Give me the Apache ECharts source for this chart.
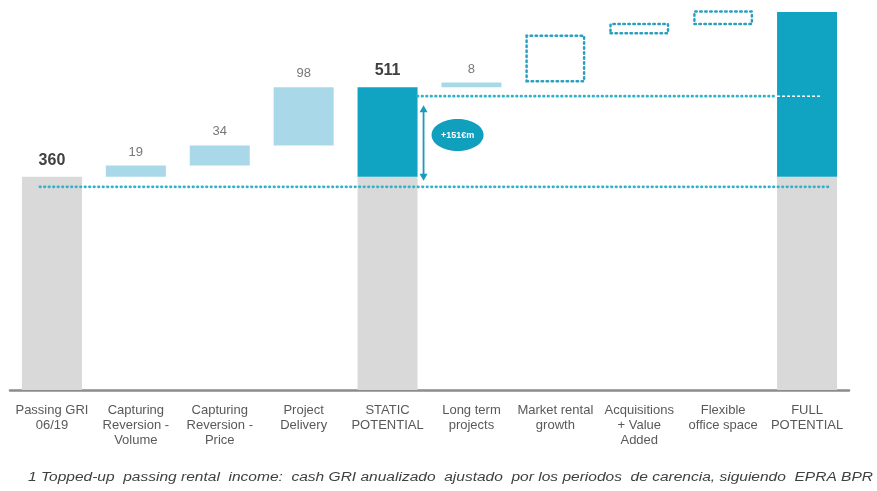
<!DOCTYPE html>
<html>
<head>
<meta charset="utf-8">
<script src="https://cdn.jsdelivr.net/npm/echarts@6/dist/echarts.min.js"></script>
<style>html,body{margin:0;padding:0;background:#fff}#c{width:877px;height:491px}</style>
</head>
<body>
<div id="c"></div>
<script>
var categories = ['Passing GRI\n06/19','Capturing\nReversion -\nVolume','Capturing\nReversion -\nPrice','Project\nDelivery','STATIC\nPOTENTIAL','Long term\nprojects','Market rental\ngrowth','Acquisitions\n+ Value\nAdded','Flexible\noffice space','FULL\nPOTENTIAL'];
var baseVals   = [0, 360, 379, 413, 0, 511, 519, 600, 616, 0];
var grayVals   = [360, '-', '-', '-', 360, '-', '-', '-', '-', 360];
var stepVals   = ['-', 19, 34, 98, '-', 8, '-', '-', '-', '-'];
var tealVals   = ['-', '-', '-', '-', 151, '-', '-', '-', '-', 278];
var dottedVals = ['-', '-', '-', '-', '-', '-', 81, 20, 25, '-'];
var valueLabels = ['360', '19', '34', '98', '511', '8', '', '', '', ''];
var totalIdx = [0, 4];
var passingLevel = 343;
var staticLevel = 496;
var deltaText = '+151€m';
var footnote = '1 Topped-up  passing rental  income:  cash GRI anualizado  ajustado  por los periodos  de carencia, siguiendo  EPRA BPR';

var chart = echarts.init(document.getElementById('c'));
function lbl(p){ return valueLabels[p.dataIndex] ? (totalIdx.indexOf(p.dataIndex) >= 0 ? '{t|' + valueLabels[p.dataIndex] + '}' : '{s|' + valueLabels[p.dataIndex] + '}') : ''; }
var rich = { t:{fontSize:16,fontWeight:'bold',color:'#404040',fontFamily:'Liberation Sans'}, s:{fontSize:13,color:'#777',fontFamily:'Liberation Sans'} };
chart.setOption({
  animation:false,
  grid:{left:10,right:28,top:5,bottom:101},
  xAxis:{type:'category',data:categories,
    axisLine:{lineStyle:{color:'#8c8c8c',width:2.5}},axisTick:{show:false},
    axisLabel:{interval:0,color:'#595959',fontSize:13,lineHeight:15,margin:13,fontFamily:'Liberation Sans'}},
  yAxis:{type:'value',min:0,max:650,show:false,splitLine:{show:false}},
  series:[
    {type:'bar',stack:'w',data:baseVals,barWidth:60,itemStyle:{color:'rgba(0,0,0,0)'},silent:true},
    {type:'bar',stack:'w',data:grayVals,barWidth:60,itemStyle:{color:'#d9d9d9'},
      label:{show:true,position:'top',distance:8,formatter:function(p){return p.dataIndex===0?lbl(p):'';},rich:rich}},
    {type:'bar',stack:'w',data:stepVals,barWidth:60,itemStyle:{color:'#a9d9e8'},
      label:{show:true,position:'top',distance:7,formatter:lbl,rich:rich}},
    {type:'bar',stack:'w',data:tealVals,barWidth:60,itemStyle:{color:'#10a4c2'},
      label:{show:true,position:'top',distance:9,formatter:function(p){return p.dataIndex===4?lbl(p):'';},rich:rich}},
    {type:'bar',stack:'w',data:dottedVals,barWidth:62,itemStyle:{color:'rgba(0,0,0,0)',borderColor:'#2b9fc0',borderWidth:2.5,borderType:[1.5,3.5],borderCap:'round'}}
  ]
});

function px(i,v){ return chart.convertToPixel({xAxisIndex:0,yAxisIndex:0},[i,v]); }
var p0 = px(0, passingLevel), p9 = px(9, passingLevel);
var s4 = px(4, staticLevel), s9 = px(9, staticLevel);
var top511 = px(4, 511), top360 = px(4, 360);
var ax = top511[0] + 36;
var ay1 = top511[1] + 18, ay2 = top360[1] + 4;
var ecx = top511[0] + 70, ecy = (top511[1] + top360[1]) / 2 + 3;
var dot = {stroke:'#2fb2cb',lineWidth:2.8,lineDash:[0.5,4],lineCap:'round'};
var ctx = document.createElement('canvas').getContext('2d');
ctx.font = 'italic 12px "Liberation Sans"';
var fw = ctx.measureText(footnote).width;
var fs = 845 / fw;
chart.setOption({graphic:[
  {type:'line',shape:{x1:p0[0]-12,y1:p0[1],x2:p9[0]+23,y2:p9[1]},style:dot,z:10},
  {type:'line',shape:{x1:s4[0]+30,y1:s4[1],x2:s9[0]-30,y2:s9[1]},style:dot,z:10},
  {type:'line',shape:{x1:s9[0]-30,y1:s9[1],x2:s9[0]+15,y2:s9[1]},style:{stroke:'#ffffff',lineWidth:1.5,lineDash:[3,2]},z:10},
  {type:'line',shape:{x1:ax,y1:ay1+5,x2:ax,y2:ay2-5},style:{stroke:'#1a9bb8',lineWidth:1.8},z:10},
  {type:'polygon',shape:{points:[[ax,ay1],[ax-4,ay1+7],[ax+4,ay1+7]]},style:{fill:'#1a9bb8'},z:10},
  {type:'polygon',shape:{points:[[ax,ay2],[ax-4,ay2-7],[ax+4,ay2-7]]},style:{fill:'#1a9bb8'},z:10},
  {type:'ellipse',shape:{cx:ecx,cy:ecy,rx:26,ry:16},style:{fill:'#10a0be'},z:10},
  {type:'text',x:ecx,y:ecy,style:{text:deltaText,fill:'#fff',fontSize:9,fontWeight:'bold',align:'center',verticalAlign:'middle',fontFamily:'Liberation Sans'},z:11},
  {type:'text',x:28,y:478,scaleX:fs,style:{text:footnote,fill:'#404040',fontSize:12,fontStyle:'italic',fontFamily:'Liberation Sans',verticalAlign:'middle'}}
]});
</script>
</body>
</html>
